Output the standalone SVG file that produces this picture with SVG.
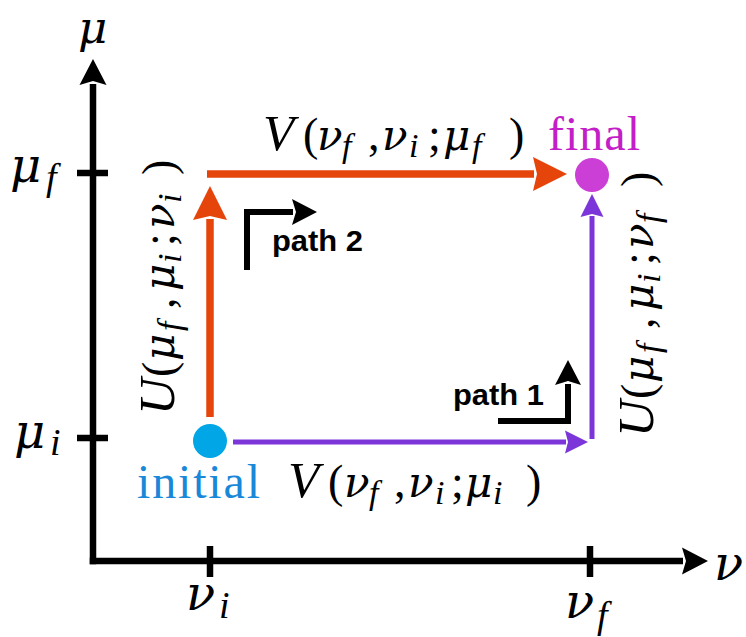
<svg xmlns="http://www.w3.org/2000/svg" width="746" height="637" viewBox="0 0 746 637">
<defs>
<style>
.m{font-family:"Liberation Serif","Times New Roman",serif;font-size:46px;fill:#000}
.it{font-style:italic}
.V{font-style:italic;font-size:51px}
.g{font-family:"DejaVu Serif","Liberation Serif",serif;font-style:italic;font-size:42px}
.sub{font-size:34px;font-style:italic}
.ax{font-family:"Liberation Serif","Times New Roman",serif;font-size:54px;font-style:italic;fill:#000}
.axg{font-family:"DejaVu Serif","Liberation Serif",serif;font-size:48px;font-style:italic}
.axs{font-size:38px}
.lbl{font-family:"Liberation Serif","Times New Roman",serif;font-size:48px}
.p{font-family:"Liberation Sans",Arial,sans-serif;font-weight:bold;font-size:30px;fill:#000}
.axis{stroke:#000;stroke-width:6.5;fill:none}
.tick{stroke:#000;stroke-width:6.5}
.or{stroke:#E5450A;stroke-width:7.5;fill:none}
.pu{stroke:#7B35D9;stroke-width:5;fill:none}
.pa{stroke:#000;stroke-width:6;fill:none;stroke-linejoin:miter}
</style>
<marker id="aAx" markerUnits="userSpaceOnUse" viewBox="0 -14 27 28" markerWidth="27" markerHeight="28" refX="1" refY="0" orient="auto"><path d="M0,-13.5 L26,0 L0,13.5 L4,0 Z" fill="#000"/></marker>
<marker id="aOr" markerUnits="userSpaceOnUse" viewBox="0 -18 35 36" markerWidth="35" markerHeight="36" refX="1" refY="0" orient="auto"><path d="M0,-17 L34,0 L0,17 L4,0 Z" fill="#E5450A"/></marker>
<marker id="aPu" markerUnits="userSpaceOnUse" viewBox="0 -12 24 24" markerWidth="24" markerHeight="24" refX="1" refY="0" orient="auto"><path d="M0,-11.5 L23,0 L0,11.5 L3,0 Z" fill="#7B35D9"/></marker>
<marker id="aPa" markerUnits="userSpaceOnUse" viewBox="0 -14 26 28" markerWidth="26" markerHeight="28" refX="1" refY="0" orient="auto"><path d="M0,-13 L25,0 L0,13 L4,0 Z" fill="#000"/></marker>
</defs>
<rect width="746" height="637" fill="#fff"/>

<g id="axes">
<line class="axis" x1="93" y1="564.25" x2="93" y2="84" marker-end="url(#aAx)"/>
<line class="axis" x1="89.75" y1="561" x2="683" y2="561" marker-end="url(#aAx)"/>
<line class="tick" x1="77" y1="173" x2="108" y2="173"/>
<line class="tick" x1="77" y1="438" x2="108" y2="438"/>
<line class="tick" x1="210" y1="546" x2="210" y2="577"/>
<line class="tick" x1="590" y1="546" x2="590" y2="577"/>
<text class="ax axg" x="78" y="43" style="font-size:45px">μ</text>
<text class="ax axg" x="714" y="580">ν</text>
<text class="ax"><tspan class="axg" x="10" y="182">μ</tspan><tspan class="axs" x="46" y="190">f</tspan></text>
<text class="ax"><tspan class="axg" x="14" y="448">μ</tspan><tspan class="axs" x="50" y="455">i</tspan></text>
<text class="ax"><tspan class="axg" x="186" y="610">ν</tspan><tspan class="axs" x="219" y="618">i</tspan></text>
<text class="ax"><tspan class="axg" x="565" y="618">ν</tspan><tspan class="axs" x="597" y="628">f</tspan></text>
</g>

<g id="connectors">
<line class="or" x1="210" y1="417" x2="210" y2="219" marker-end="url(#aOr)"/>
<line class="or" x1="207" y1="174" x2="534" y2="174" marker-end="url(#aOr)"/>
<line class="pu" x1="233" y1="442" x2="566" y2="442" marker-end="url(#aPu)"/>
<line class="pu" x1="592" y1="439" x2="592" y2="216" marker-end="url(#aPu)"/>
<polyline class="pa" points="247,270 247,212 293,212" marker-end="url(#aPa)"/>
<polyline class="pa" points="498,421 568,421 568,384" marker-end="url(#aPa)"/>
</g>

<g id="label-top">
<text class="m"><tspan class="V" x="263" y="150">V</tspan><tspan x="303" y="150">(</tspan><tspan class="g" x="317" y="150">ν</tspan><tspan class="sub" x="342" y="157">f</tspan><tspan x="368" y="150">,</tspan><tspan class="g" x="382" y="150">ν</tspan><tspan class="sub" x="409" y="157">i</tspan><tspan x="428" y="150">;</tspan><tspan class="g" x="443" y="150">μ</tspan><tspan class="sub" x="472" y="157">f</tspan><tspan x="509" y="150">)</tspan></text>
</g>
<g id="label-bottom">
<text class="m"><tspan class="V" x="288" y="497">V</tspan><tspan x="328" y="497">(</tspan><tspan class="g" x="344" y="497">ν</tspan><tspan class="sub" x="369" y="504">f</tspan><tspan x="394" y="497">,</tspan><tspan class="g" x="408" y="497">ν</tspan><tspan class="sub" x="435" y="504">i</tspan><tspan x="451" y="497">;</tspan><tspan class="g" x="465" y="497">μ</tspan><tspan class="sub" x="493" y="504">i</tspan><tspan x="526" y="497">)</tspan></text>
</g>
<g id="label-left">
<text class="m" transform="translate(174,415) rotate(-90)"><tspan class="V" x="0" y="0">U</tspan><tspan x="38" y="0">(</tspan><tspan class="g" x="54" y="0">μ</tspan><tspan class="sub" x="84" y="7">f</tspan><tspan x="106" y="0">,</tspan><tspan class="g" x="124" y="0">μ</tspan><tspan class="sub" x="152" y="7">i</tspan><tspan x="169" y="0">;</tspan><tspan class="g" x="186" y="0">ν</tspan><tspan class="sub" x="212" y="7">i</tspan><tspan x="240" y="0">)</tspan></text>
</g>
<g id="label-right">
<text class="m" transform="translate(653,437) rotate(-90)"><tspan class="V" x="0" y="0">U</tspan><tspan x="38" y="0">(</tspan><tspan class="g" x="54" y="0">μ</tspan><tspan class="sub" x="84" y="7">f</tspan><tspan x="108" y="0">,</tspan><tspan class="g" x="126" y="0">μ</tspan><tspan class="sub" x="154" y="7">i</tspan><tspan x="172" y="0">;</tspan><tspan class="g" x="188" y="0">ν</tspan><tspan class="sub" x="214" y="7">f</tspan><tspan x="250" y="0">)</tspan></text>
</g>

<g id="path2">
<text class="p" x="272" y="251" textLength="91" lengthAdjust="spacingAndGlyphs">path 2</text>
</g>
<g id="path1">
<text class="p" x="453" y="405" textLength="91" lengthAdjust="spacingAndGlyphs">path 1</text>
</g>

<g id="initial">
<circle cx="210" cy="441" r="17" fill="#00A6E6"/>
<text class="lbl" x="137" y="498" textLength="123" lengthAdjust="spacing" fill="#1A88D8">initial</text>
</g>
<g id="final">
<circle cx="592" cy="175" r="17" fill="#CC3FD6"/>
<text class="lbl" x="548" y="150" textLength="92" lengthAdjust="spacing" fill="#C41EC8">final</text>
</g>
</svg>
